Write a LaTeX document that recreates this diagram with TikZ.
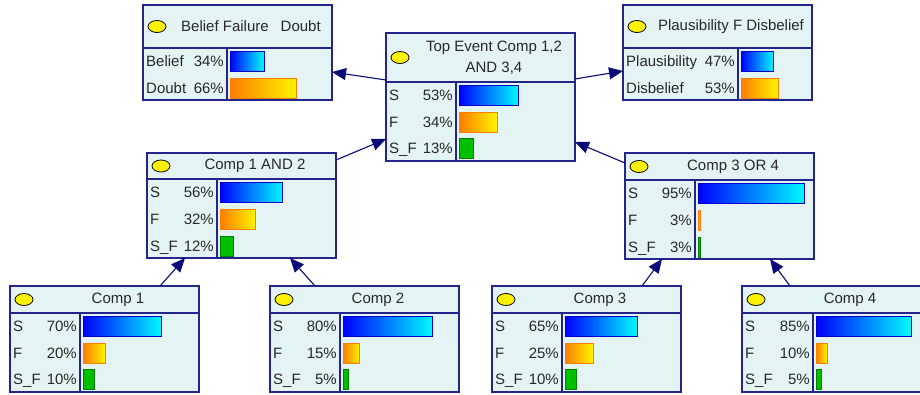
\documentclass[tikz,border=0pt]{standalone}
\usepackage{fontspec}
\setmainfont{Liberation Sans}
\usetikzlibrary{arrows.meta}
\usetikzlibrary{shapes.geometric}
\definecolor{netfill}{RGB}{228,244,245}
\definecolor{netline}{RGB}{36,36,140}
\definecolor{linknavy}{RGB}{10,10,120}
\definecolor{txtgrey}{RGB}{40,40,40}
\definecolor{sblue}{RGB}{0,0,255}
\definecolor{scyan}{RGB}{0,250,255}
\definecolor{forange}{RGB}{255,125,0}
\definecolor{fyellow}{RGB}{255,245,0}
\definecolor{sfgreen}{RGB}{0,190,0}
\definecolor{sfdark}{RGB}{0,130,0}
% one network box: name, left, top, height, header height, divider x, title
\newcommand{\bnbox}[7]{%
  \node[netbox, minimum height=#4pt] (#1) at (#2,#3) {};
  \draw[divline] (#2,#3+#5) -- (#2+189,#3+#5);
  \draw[divline] (#6,#3+#5) -- (#6,#3+#4);
  \node[bulb] (#1-bulb) at (#2+14,#3+#5/2) {};
  \node[title] (#1-title) at (#2+108,#3+#5/2) {#7};
}
% one state row: name, left, divider x, y, state, percent, bar style, px per percent
\newcommand{\bnrow}[8]{%
  \node[rowtext, anchor=base west] (#1) at (#2+3,#4+5.5) {#5};
  \node[rowtext, anchor=base east] (#1-val) at (#3-3,#4+5.5) {#6\%};
  \draw[#7] (#3+3,#4-10) rectangle ++(#6*#8,20);
}

\begin{document}
\begin{tikzpicture}[x=1pt,y=-1pt,
    netbox/.style={draw=netline, line width=1.3pt, fill=netfill, anchor=north west, inner sep=0pt, outer sep=0pt, minimum width=189pt},
    divline/.style={draw=netline, line width=1.3pt},
    bulb/.style={ellipse, draw=black, line width=0.8pt, fill=yellow, minimum width=18pt, minimum height=12pt, inner sep=0pt},
    title/.style={font=\fontsize{15}{21}\selectfont, text=txtgrey, align=center, inner sep=0pt},
    rowtext/.style={font=\fontsize{15}{18}\selectfont, text=txtgrey, inner sep=0pt},
    sbar/.style={left color=sblue, right color=scyan, draw=sblue!80!black, line width=0.9pt},
    fbar/.style={left color=forange, right color=fyellow, draw=forange, line width=0.9pt},
    sfbar/.style={fill=sfgreen, draw=sfdark, line width=0.9pt},
    link/.style={draw=linknavy, line width=1.1pt, -{Triangle[length=14pt,width=12pt]}}]
  \useasboundingbox (0,0) rectangle (920,394);

  \bnbox{bel}{143}{5}{95}{43}{227}{Belief Failure\hspace{12pt}Doubt}
  \bnrow{bel-b}{143}{227}{61}{Belief}{34}{sbar}{1}
  \bnrow{bel-d}{143}{227}{88}{Doubt}{66}{fbar}{1}

  \bnbox{top}{386}{33}{128}{49}{456}{Top Event Comp 1,2\\AND 3,4}
  \bnrow{top-s}{386}{456}{95}{S}{53}{sbar}{1.12}
  \bnrow{top-f}{386}{456}{122}{F}{34}{fbar}{1.12}
  \bnrow{top-sf}{386}{456}{148}{S\_F}{13}{sfbar}{1.12}

  \bnbox{pla}{623}{5}{95}{43}{738}{Plausibility F Disbelief}
  \bnrow{pla-p}{623}{738}{61}{Plausibility}{47}{sbar}{0.7}
  \bnrow{pla-d}{623}{738}{88}{Disbelief}{53}{fbar}{0.7}

  \bnbox{c12}{147}{153}{105}{26}{217}{Comp 1 AND 2}
  \bnrow{c12-s}{147}{217}{192}{S}{56}{sbar}{1.12}
  \bnrow{c12-f}{147}{217}{219}{F}{32}{fbar}{1.12}
  \bnrow{c12-sf}{147}{217}{246}{S\_F}{12}{sfbar}{1.12}

  \bnbox{c34}{625}{153}{106}{27}{695}{Comp 3 OR 4}
  \bnrow{c34-s}{625}{695}{193}{S}{95}{sbar}{1.12}
  \bnrow{c34-f}{625}{695}{220}{F}{3}{fbar}{0.7}
  \bnrow{c34-sf}{625}{695}{247}{S\_F}{3}{sfbar}{0.7}

  \bnbox{c1}{10}{286}{106}{27}{80}{Comp 1}
  \bnrow{c1-s}{10}{80}{326}{S}{70}{sbar}{1.12}
  \bnrow{c1-f}{10}{80}{353}{F}{20}{fbar}{1.12}
  \bnrow{c1-sf}{10}{80}{379}{S\_F}{10}{sfbar}{1.12}

  \bnbox{c2}{270}{286}{106}{27}{340}{Comp 2}
  \bnrow{c2-s}{270}{340}{326}{S}{80}{sbar}{1.12}
  \bnrow{c2-f}{270}{340}{353}{F}{15}{fbar}{1.12}
  \bnrow{c2-sf}{270}{340}{379}{S\_F}{5}{sfbar}{1.12}

  \bnbox{c3}{492}{286}{106}{27}{562}{Comp 3}
  \bnrow{c3-s}{492}{562}{326}{S}{65}{sbar}{1.12}
  \bnrow{c3-f}{492}{562}{353}{F}{25}{fbar}{1.12}
  \bnrow{c3-sf}{492}{562}{379}{S\_F}{10}{sfbar}{1.12}

  \bnbox{c4}{742}{286}{106}{27}{813}{Comp 4}
  \bnrow{c4-s}{742}{813}{326}{S}{85}{sbar}{1.12}
  \bnrow{c4-f}{742}{813}{353}{F}{10}{fbar}{1.12}
  \bnrow{c4-sf}{742}{813}{379}{S\_F}{5}{sfbar}{1.12}

  % links
  \draw[link] ([yshift=-47pt]top.north west) -- ([yshift=-67pt]bel.north east);
  \draw[link] ([yshift=-46pt]top.north east) -- ([yshift=-66pt]pla.north west);
  \draw[link] ([yshift=-7pt]c12.north east) -- ([yshift=-106pt]top.north west);
  \draw[link] ([yshift=-10pt]c34.north west) -- ([yshift=-109pt]top.north east);
  \draw[link] ([xshift=150pt]c1.north west) -- ([xshift=38pt]c12.south west);
  \draw[link] ([xshift=45pt]c2.north west) -- ([xshift=143pt]c12.south west);
  \draw[link] ([xshift=150pt]c3.north west) -- ([xshift=37pt]c34.south west);
  \draw[link] ([xshift=48pt]c4.north west) -- ([xshift=145pt]c34.south west);
\end{tikzpicture}
\end{document}
